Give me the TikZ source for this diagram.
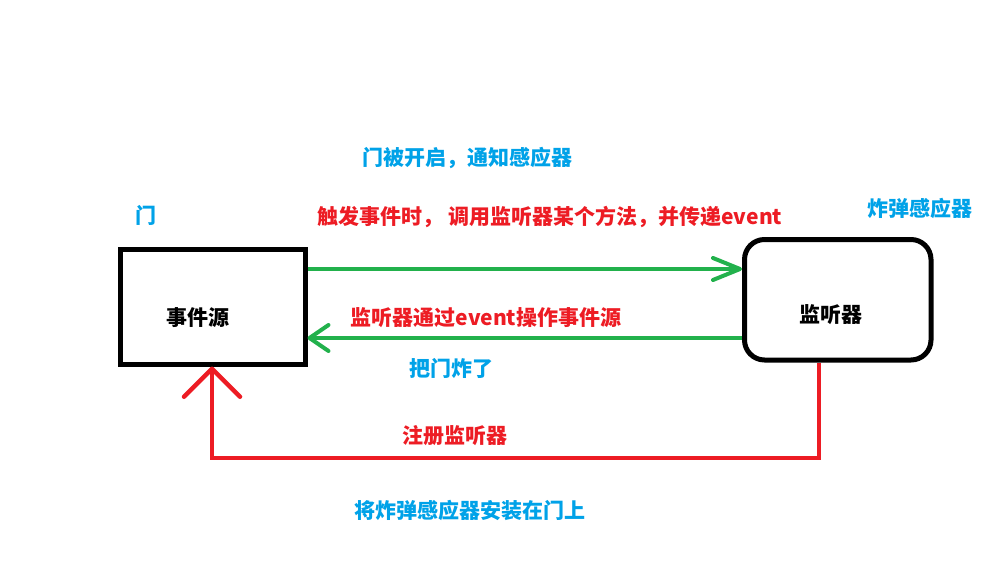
\documentclass[tikz,border=0pt]{standalone}
\usepackage{fontspec}
\setmainfont{Noto Sans CJK SC}
\usetikzlibrary{arrows.meta}
\definecolor{pblue}{RGB}{0,162,232}
\definecolor{pred}{RGB}{237,28,36}
\definecolor{pgreen}{RGB}{34,177,76}
\begin{document}
\begin{tikzpicture}[x=1pt,y=-1pt,
  lbl/.style={font=\fontsize{21}{25}\selectfont\bfseries, inner sep=0pt},
  bluelbl/.style={lbl, text=pblue},
  redlbl/.style={lbl, text=pred},
  blacklbl/.style={lbl, text=black},
  boxsq/.style={draw=black, line width=5pt},
  garrow/.style={draw=pgreen, line width=4pt},
  rline/.style={draw=pred, line width=4.5pt}]
\useasboundingbox[fill=white] (0,0) rectangle (990,572);
% boxes
\node[boxsq, minimum width=184.5pt, minimum height=114.5pt] (src) at (212.75,306.75) {};
\node[boxsq, rounded corners=20pt, minimum width=186.5pt, minimum height=120.5pt] (lis) at (837.75,299.75) {};
% connectors
\draw[garrow, -{Straight Barb[length=27pt,width=22pt,round]}] (src.east |- 0,269) -- (lis.west |- 0,269);
\draw[garrow, -{Straight Barb[length=19pt,width=26pt,round]}] (lis.west |- 0,338) -- (src.east |- 0,338);
\draw[rline, -{Straight Barb[length=28pt,width=56pt,round]}] (lis.south -| 819,0) -- (819,458) -- (212,458) -- (src.south -| 212,0);
% labels
\node[blacklbl] (tsrc) at (198,318) {事件源};
\node[blacklbl] (tlis) at (831,315) {监听器};
\node[bluelbl] (tdoor) at (146,215) {门};
\node[bluelbl] (tsensor) at (920,208) {炸弹感应器};
\node[bluelbl] (topen) at (467,158) {门被开启，通知感应器};
\node[redlbl] (ttrig) at (550,217) {触发事件时， 调用监听器某个方法，并传递event};
\node[redlbl] (top) at (486,318) {监听器通过event操作事件源};
\node[bluelbl] (tbomb) at (451,368) {把门炸了};
\node[redlbl] (treg) at (455,436) {注册监听器};
\node[bluelbl] (tinst) at (470,510) {将炸弹感应器安装在门上};
\end{tikzpicture}
\end{document}
